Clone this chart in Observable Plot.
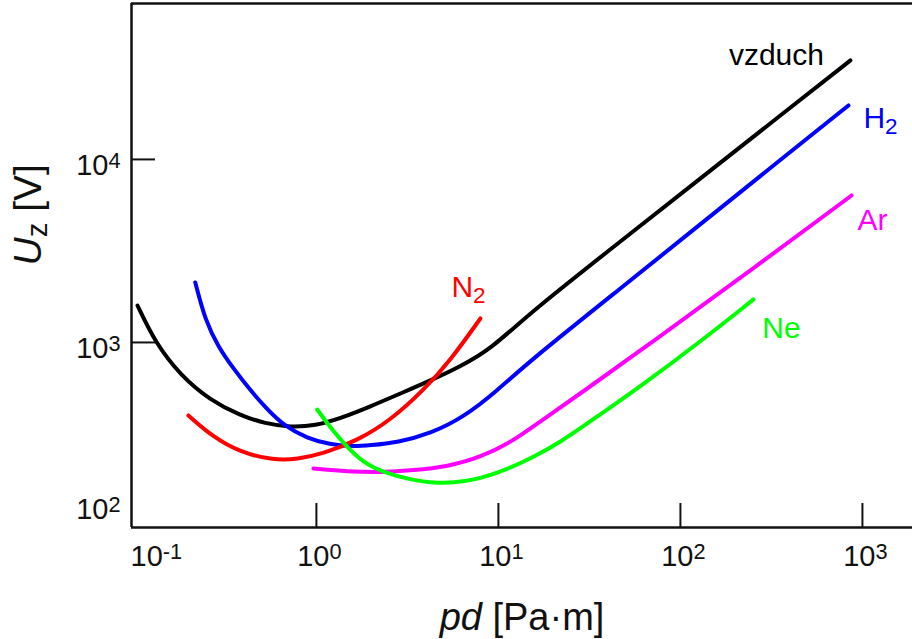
<!DOCTYPE html>
<html><head><meta charset="utf-8">
<script src="https://cdn.jsdelivr.net/npm/d3@7"></script>
<script src="https://cdn.jsdelivr.net/npm/@observablehq/plot@0.6"></script>
<style>body{margin:0;background:#fff} svg{display:block}</style>
</head><body><div id="chart"></div>
<script>
// Paschen curves: [pd (Pa·m), U_z (V)]
const vzduch = [[0.104,1592],[0.130,1000],[0.179,661],[0.262,482],[0.382,399],[0.525,360],[0.719,344],[0.987,351],[1.355,385],[1.98,447],[2.89,526],[4.23,619],[6.18,740],[9.04,916],[15.0,1459],[46.8,3565],[129,7870],[354,17400],[859,34750]];
const H2 = [[0.216,2128],[0.245,1318],[0.290,940],[0.350,721],[0.434,547],[0.525,441],[0.659,352],[0.893,299],[1.19,277],[1.54,270],[1.98,274],[2.79,284],[4.23,318],[6.42,389],[9.88,547],[15.0,798],[46.8,1972],[129,4430],[354,9940],[838,19720]];
const N2 = [[0.198,399],[0.272,303],[0.382,251],[0.581,227],[0.787,230],[1.09,247],[1.68,291],[2.55,375],[3.87,547],[5.45,798],[7.96,1352]];
const Ar = [[0.963,205],[1.48,197],[2.25,195],[3.41,200],[5.25,210],[7.96,235],[12.1,291],[15.0,339],[28.2,526],[68.4,988],[243,2472],[871,6353]];
const Ne = [[1.01,430],[1.19,344],[1.48,267],[1.81,221],[2.33,195],[3.41,176],[4.62,170],[6.42,172],[9.88,192],[15.0,232],[21.9,284],[36.3,405],[60.3,575],[129,1012],[252,1718]];

const seriesNames = ["vzduch","H_2","N_2","Ar","Ne"];
const seriesColors = ["#000000","#0000ff","#ff0000","#ff00ff","#00ff00"];
const seriesData = [vzduch, H2, N2, Ar, Ne];

// series label anchors (data coords)
const labelText = ["vzduch","H_2","Ar","Ne","N_2"];
const labelPd = [337, 1012, 939, 282, 5.52];
const labelU = [33000, 14770, 4140, 1064, 1762];
const labelColor = ["#000000","#0000ff","#ff00ff","#00ff00","#ff0000"];
const labelAnchor = ["middle","start","start","start","start"];

const xTicks = [0.1, 1, 10, 100, 1000];
const xTickLabels = ["10^-1","10^0","10^1","10^2","10^3"];
const yTicks = [100, 1000, 10000];
const yTickLabels = ["10^2","10^3","10^4"];
const xTickMarks = [1, 10, 100, 1000];
const yTickMarks = [1000, 10000];

const xDomain = [0.0964, 1884];
const yDomain = [97.5, 71100];
const xTitle = "*pd* [Pa·m]";
const yTitle = "*U*_z [V]";

const W = 912, H = 639, ML = 131, MR = 0, MT = 3, MB = 112;
const font = "'Liberation Sans', Arial, Helvetica, sans-serif";

const marks = [];
seriesData.forEach((pts, i) => {
  marks.push(Plot.line(pts, {x: d => d[0], y: d => d[1], stroke: seriesColors[i], strokeWidth: 4, curve: "basis"}));
});
// frame: left, top, bottom
marks.push(Plot.ruleX([xDomain[0]], {stroke: "#111", strokeWidth: 2.5}));
marks.push(Plot.ruleY([yDomain[0], yDomain[1]], {stroke: "#111", strokeWidth: 2.5}));
// inward ticks
marks.push(Plot.tickX(xTickMarks, {x: d => d, stroke: "#111", strokeWidth: 2, insetTop: (H - MT - MB) - 24}));
marks.push(Plot.tickY(yTickMarks, {y: d => d, stroke: "#111", strokeWidth: 2, insetRight: (W - ML - MR) - 24}));
// tick labels
const xi = xTicks.map((d, i) => i);
marks.push(Plot.text(xi.filter(i => i === 0), {x: i => xTicks[i], text: i => xTickLabels[i], frameAnchor: "bottom", lineAnchor: "top", dy: 18, dx: 22, fontSize: 29, fill: "#111"}));
marks.push(Plot.text(xi.filter(i => i > 0), {x: i => xTicks[i], text: i => xTickLabels[i], frameAnchor: "bottom", lineAnchor: "top", dy: 18, dx: 3, fontSize: 29, fill: "#111"}));
const yi = yTicks.map((d, i) => i);
marks.push(Plot.text(yi.filter(i => i === 0), {y: i => yTicks[i], text: i => yTickLabels[i], frameAnchor: "left", textAnchor: "end", dx: -11, dy: -16, fontSize: 29, fill: "#111"}));
marks.push(Plot.text(yi.filter(i => i > 0), {y: i => yTicks[i], text: i => yTickLabels[i], frameAnchor: "left", textAnchor: "end", dx: -11, dy: 6, fontSize: 29, fill: "#111"}));
// series labels
const li = labelText.map((d, i) => i);
["middle","start"].forEach(a => {
  marks.push(Plot.text(li.filter(i => labelAnchor[i] === a), {x: i => labelPd[i], y: i => labelU[i], text: i => labelText[i], fill: i => labelColor[i], textAnchor: a, lineAnchor: "bottom", fontSize: 30}));
});
// axis titles
marks.push(Plot.text([xTitle], {text: d => d, frameAnchor: "bottom", lineAnchor: "bottom", dy: 102, fontSize: 38, fill: "#111"}));
marks.push(Plot.text([yTitle], {text: d => d, frameAnchor: "left", lineAnchor: "bottom", rotate: -90, dx: -91, fontSize: 39, fill: "#111"}));

const chart = Plot.plot({
  width: W, height: H,
  marginLeft: ML, marginRight: MR, marginTop: MT, marginBottom: MB,
  style: {fontFamily: font, background: "#fff", overflow: "visible"},
  x: {type: "log", domain: xDomain, axis: null},
  y: {type: "log", domain: yDomain, axis: null},
  color: {type: "identity"},
  marks
});
document.getElementById("chart").appendChild(chart);

// rich text: *italic*, ^sup, _sub
function richify(el) {
  const s = el.textContent;
  if (!/[*^_]/.test(s)) return;
  const fs = parseFloat(getComputedStyle(el).fontSize);
  const segs = [];
  let italic = false, cur = "", i = 0;
  const push = () => { if (cur) segs.push({text: cur, italic, shift: 0}); cur = ""; };
  while (i < s.length) {
    const c = s[i];
    if (c === "*") { push(); italic = !italic; i++; }
    else if (c === "^" || c === "_") {
      push();
      let j = i + 1, t = "";
      while (j < s.length && !/[\s*^_]/.test(s[j])) t += s[j++];
      segs.push({text: t, italic: false, shift: c === "^" ? 1 : -1});
      i = j;
    } else { cur += c; i++; }
  }
  push();
  el.textContent = "";
  let off = 0;
  for (const sg of segs) {
    const target = sg.shift === 1 ? -0.24 * fs : sg.shift === -1 ? 0.17 * fs : 0;
    const ts = d3.select(el).append("tspan").text(sg.text).attr("dy", target - off);
    off = target;
    if (sg.shift) ts.attr("font-size", 0.75 * fs);
    if (sg.italic) ts.attr("font-style", "italic");
  }
}
d3.select(chart).selectAll("text").each(function() { richify(this); });
</script>
</body></html>
